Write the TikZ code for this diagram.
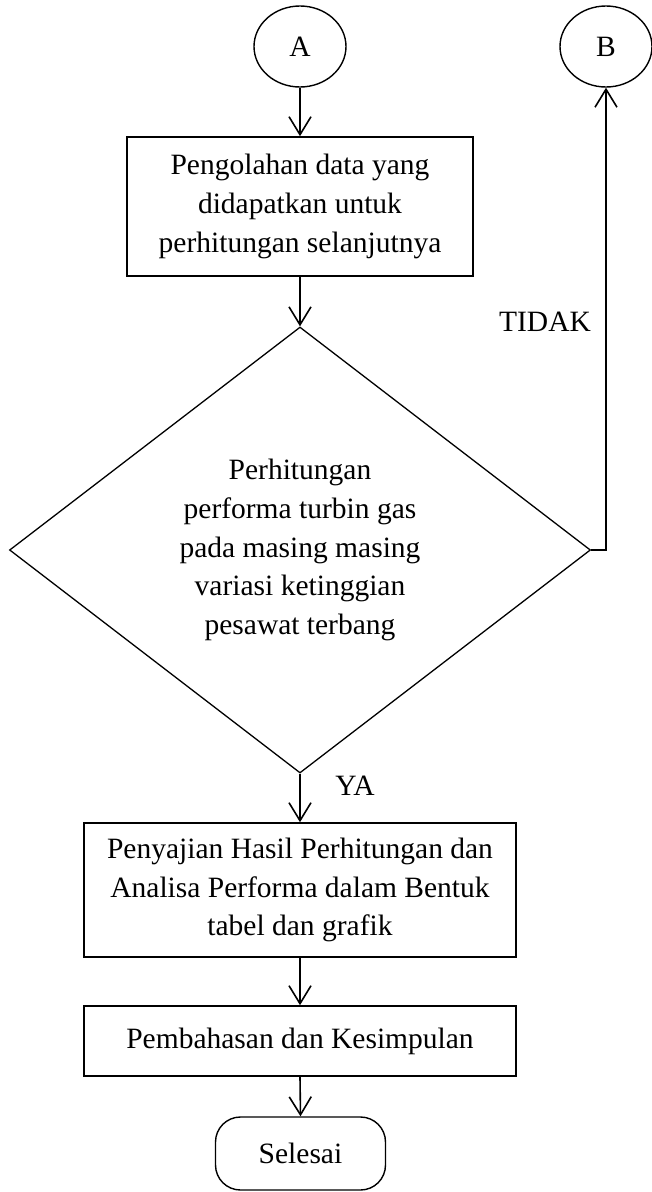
\documentclass[tikz,border=0pt]{standalone}
\usepackage{fontspec}
\setmainfont{Liberation Serif}
\usetikzlibrary{shapes.geometric,arrows.meta}
\tikzset{
  every node/.style={font=\fontsize{29.5}{38.6}\selectfont, inner sep=0pt},
  procbox/.style={draw, line width=1.6pt, rectangle, align=center},
  connector/.style={draw, ellipse, line width=1.4pt, minimum width=92pt, minimum height=81pt},
  decision/.style={draw, diamond, line width=1.3pt, align=center, aspect=1.3, minimum width=581pt, minimum height=446pt},
  terminal/.style={draw, rectangle, rounded corners=25pt, line width=1.4pt, minimum width=170pt, minimum height=73pt},
  flow/.style={line width=1.6pt, -{Straight Barb[length=18pt,width=22pt]}},
  lbl/.style={anchor=center}
}
\begin{document}
\begin{tikzpicture}[x=1pt,y=-1pt]
\useasboundingbox (0,0) rectangle (651,1192);
\node[connector] (A) at (300,46.5) {A};
\node[connector] (B) at (606,46.5) {B};
\node[procbox, minimum width=346pt, minimum height=139pt] (b1) at (300,206.5)
  {Pengolahan data yang\\didapatkan untuk\\perhitungan selanjutnya};
\node[decision] (dia) at (300,550)
  {Perhitungan\\performa turbin gas\\pada masing masing\\variasi ketinggian\\pesawat terbang};
\node[procbox, minimum width=432pt, minimum height=134pt] (b2) at (300,890)
  {Penyajian Hasil Perhitungan dan\\Analisa Performa dalam Bentuk\\tabel dan grafik};
\node[procbox, minimum width=432pt, minimum height=70pt] (b3) at (300,1041)
  {Pembahasan dan Kesimpulan};
\node[terminal] (end) at (300.5,1153.5) {Selesai};
\node[lbl] (tidak) at (545,322) {TIDAK};
\node[lbl] (ya) at (355,786) {YA};
\draw[flow] (A.south) -- (b1.north);
\draw[flow] (b1.south) -- (dia.north);
\draw[flow] (dia.south) -- (b2.north);
\draw[flow] (b2.south) -- (b3.north);
\draw[flow] (b3.south) -- (end.north);
\draw[flow] (dia.east) -- (dia.east -| B.south) -- (B.south);
\end{tikzpicture}
\end{document}
